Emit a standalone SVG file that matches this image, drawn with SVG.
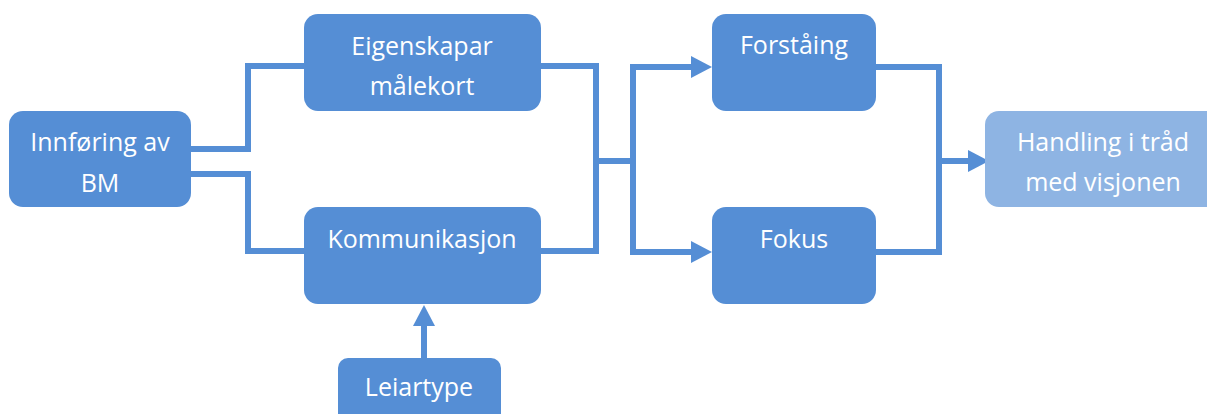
<svg xmlns="http://www.w3.org/2000/svg" width="1207" height="414" viewBox="0 0 1207 414">
<style>
.box{fill:#558ED5}
.light{fill:#8EB4E3}
.lbl{font-family:"Open Sans","Liberation Sans",sans-serif;font-size:25px;fill:#ffffff;text-anchor:middle}
.ln{fill:none;stroke:#558ED5;stroke-width:6;stroke-linejoin:miter}
</style>
<defs>
<marker id="arr" markerUnits="userSpaceOnUse" markerWidth="22" markerHeight="22" viewBox="0 0 22 22" refX="0" refY="11" orient="auto">
<path d="M0,0 L21,11 L0,22 Z" fill="#558ED5"/>
</marker>
</defs>
<rect width="1207" height="414" fill="#ffffff"/>
<g id="connectors">
<path class="ln" d="M191,149 H248 V66 H304"/>
<path class="ln" d="M191,174 H248 V251 H304"/>
<path class="ln" d="M541,66 H596 V251 H541"/>
<path class="ln" d="M596,161 H633"/>
<path class="ln" d="M633,161 V67 H691" marker-end="url(#arr)"/>
<path class="ln" d="M633,161 V252 H691" marker-end="url(#arr)"/>
<path class="ln" d="M876,67 H939 V252 H876"/>
<path class="ln" d="M939,161 H968" marker-end="url(#arr)"/>
<path class="ln" d="M424,358 V326" marker-end="url(#arr)"/>
</g>
<g id="innforing">
<rect class="box" x="9" y="111" width="182" height="96" rx="14"/>
<text class="lbl" x="100" y="151">Innføring av</text>
<text class="lbl" x="100" y="192">BM</text>
</g>
<g id="eigenskapar">
<rect class="box" x="304" y="14" width="237" height="97" rx="14"/>
<text class="lbl" x="422" y="55">Eigenskapar</text>
<text class="lbl" x="422" y="95">målekort</text>
</g>
<g id="kommunikasjon">
<rect class="box" x="304" y="207" width="237" height="97" rx="14"/>
<text class="lbl" x="422" y="248">Kommunikasjon</text>
</g>
<g id="leiartype">
<rect class="box" x="338" y="358" width="163" height="70" rx="10"/>
<text class="lbl" x="419" y="396">Leiartype</text>
</g>
<g id="forstaing">
<rect class="box" x="712" y="14" width="164" height="97" rx="14"/>
<text class="lbl" x="794" y="54">Forståing</text>
</g>
<g id="fokus">
<rect class="box" x="712" y="207" width="164" height="97" rx="14"/>
<text class="lbl" x="794" y="248">Fokus</text>
</g>
<g id="handling">
<rect class="light" x="985" y="111" width="236" height="96" rx="14"/>
<text class="lbl" x="1103" y="151">Handling i tråd</text>
<text class="lbl" x="1103" y="191">med visjonen</text>
</g>
</svg>
